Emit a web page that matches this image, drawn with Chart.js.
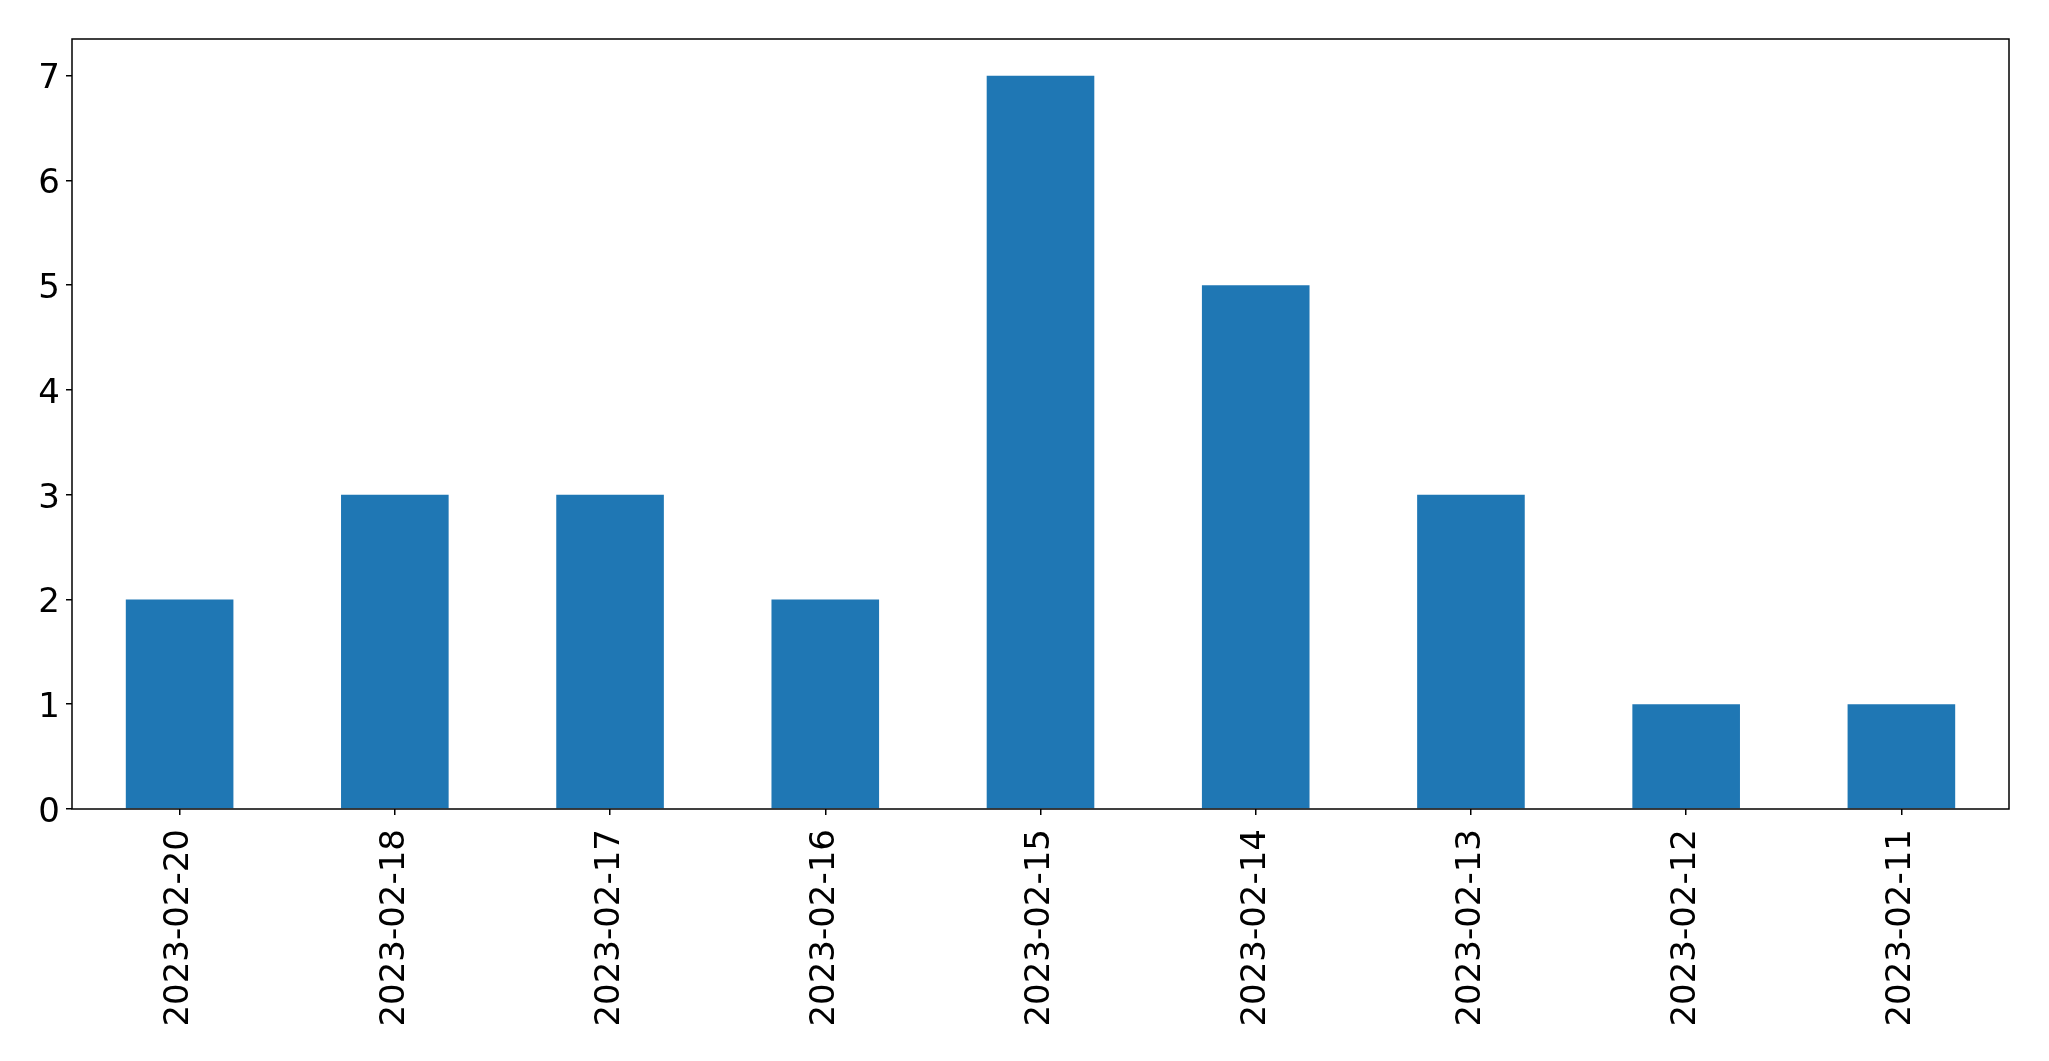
<!DOCTYPE html>
<html>
<head>
<meta charset="utf-8">
<script src="https://cdn.jsdelivr.net/npm/chart.js@4/dist/chart.umd.min.js"></script>
<style>
  html, body { margin: 0; padding: 0; background: #fff; }
  #wrap { width: 2049px; height: 1061px; }
</style>
</head>
<body>
<div id="wrap"><canvas id="chart"></canvas></div>
<script>
const dates = ["2023-02-20", "2023-02-18", "2023-02-17", "2023-02-16", "2023-02-15",
               "2023-02-14", "2023-02-13", "2023-02-12", "2023-02-11"];
const counts = [2, 3, 3, 2, 7, 5, 3, 1, 1];
const yTicks = [0, 1, 2, 3, 4, 5, 6, 7];

// рамка вокруг области графика, как в matplotlib
const frame = {
  id: "frame",
  afterDraw(chart) {
    const { ctx, chartArea: a } = chart;
    ctx.save();
    ctx.strokeStyle = "#000";
    ctx.lineWidth = 1.5;
    ctx.strokeRect(a.left, a.top, a.right - a.left, a.bottom - a.top);
    ctx.restore();
  },
};

const font = { family: "DejaVu Sans", size: 34 };

new Chart(document.getElementById("chart"), {
  type: "bar",
  data: {
    labels: dates,
    datasets: [{
      data: counts,
      backgroundColor: "#1f77b4",
      categoryPercentage: 1,
      barPercentage: 0.5,
    }],
  },
  options: {
    responsive: true,
    maintainAspectRatio: false,
    animation: false,
    layout: { padding: { top: 39, right: 40, left: 0, bottom: 0 } },
    plugins: { legend: { display: false }, tooltip: { enabled: false } },
    scales: {
      x: {
        offset: true,
        grid: { offset: false, drawOnChartArea: false, drawTicks: true, tickLength: 6, color: "#000", lineWidth: 1.5 },
        border: { display: false },
        ticks: { font, color: "#000", maxRotation: 90, minRotation: 90, padding: 14, autoSkip: false },
        afterFit(scale) { scale.height = 252; },
      },
      y: {
        min: 0,
        max: 7.35,
        grid: { drawOnChartArea: false, drawTicks: true, tickLength: 6, color: "#000", lineWidth: 1.5 },
        border: { display: false },
        ticks: { font, color: "#000", padding: 6, stepSize: 1, labelOffset: 4 },
        afterBuildTicks(scale) {
          scale.ticks = yTicks.map(v => ({ value: v }));
        },
        afterFit(scale) { scale.width = 72; },
      },
    },
  },
  plugins: [frame],
});
</script>
</body>
</html>
